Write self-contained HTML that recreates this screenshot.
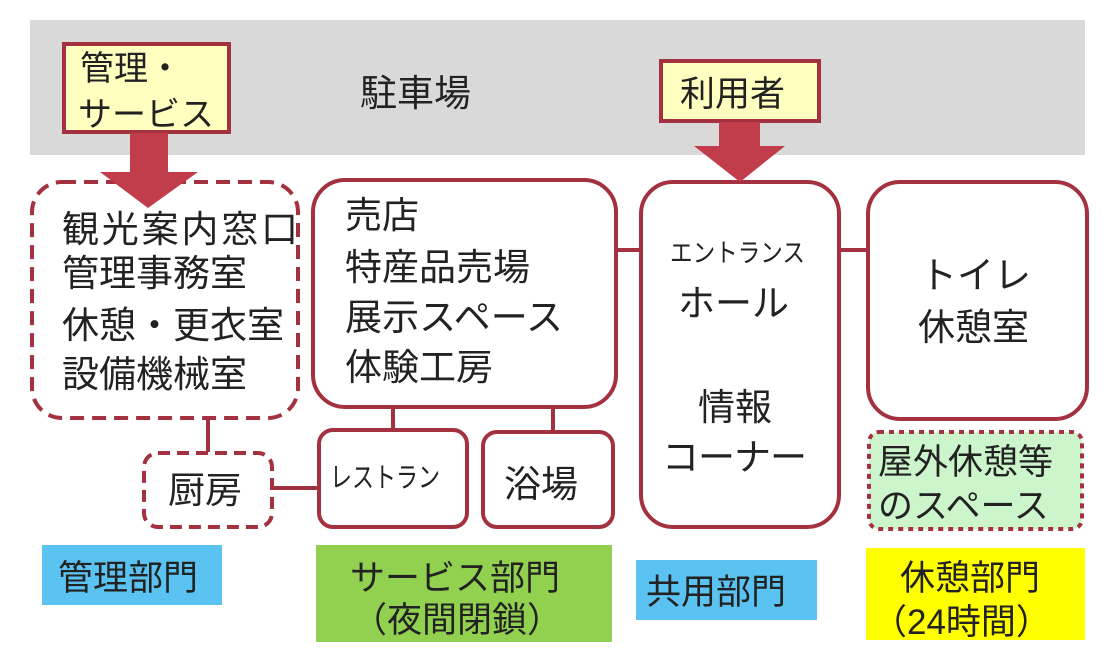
<!DOCTYPE html>
<html><head><meta charset="utf-8"><style>
html,body{margin:0;padding:0;background:#fff;}
svg text{font-family:"Liberation Sans","Noto Sans CJK JP",sans-serif;fill:#222;}
</style></head><body>
<svg width="1114" height="662" viewBox="0 0 1114 662" xmlns="http://www.w3.org/2000/svg">
<rect x="30" y="20" width="1055" height="135" fill="#d9d9d9"/>
<g stroke="#a3313f" stroke-width="4" fill="none">
<line x1="617" y1="250" x2="640" y2="250"/>
<line x1="840" y1="250" x2="867" y2="250"/>
<line x1="208" y1="420" x2="208" y2="452"/>
<line x1="273" y1="488" x2="318" y2="488"/>
<line x1="393" y1="408" x2="393" y2="430"/>
<line x1="553" y1="408" x2="553" y2="432"/>
<rect x="32" y="182" width="266" height="236" rx="30" stroke-dasharray="14,8" fill="#fff"/>
<rect x="313" y="180" width="303" height="227" rx="32" fill="#fff"/>
<rect x="641" y="182" width="198" height="345" rx="32" fill="#fff"/>
<rect x="868" y="182" width="219" height="237" rx="32" fill="#fff"/>
<rect x="869" y="432" width="213" height="97" rx="10" fill="#ccf5cc" stroke-dasharray="5,5"/>
<rect x="144" y="453" width="128" height="74" rx="14" stroke-dasharray="12,7" fill="#fff"/>
<rect x="319" y="430" width="148" height="97" rx="14" fill="#fff"/>
<rect x="483" y="432" width="130" height="95" rx="14" fill="#fff"/>
<rect x="64" y="44" width="165" height="88" fill="#ffffc0"/>
<rect x="661" y="61" width="158" height="60" fill="#ffffc0"/>
</g>
<g fill="#c23d4b">
<polygon points="130,133 168,133 168,172 198,172 148,208 100,172 130,172"/>
<polygon points="719,122 760,122 760,146 785,146 740,182 694,146 719,146"/>
</g>
<rect x="42" y="545" width="180" height="60" fill="#5bc3f2"/>
<rect x="316" y="545" width="296" height="97" fill="#92d050"/>
<rect x="636" y="560" width="181" height="60" fill="#5bc3f2"/>
<rect x="866" y="548" width="219" height="92" fill="#ffff00"/>
<g font-size="37">
<text x="80" y="80" font-size="34">管理・</text>
<text x="78" y="126" font-size="34">サービス</text>
<text x="360" y="106">駐車場</text>
<text x="680" y="106" font-size="35">利用者</text>
<text x="62" y="242" textLength="236">観光案内窓口</text>
<text x="62" y="286">管理事務室</text>
<text x="62" y="338" textLength="222">休憩・更衣室</text>
<text x="62" y="387">設備機械室</text>
<text x="345" y="228">売店</text>
<text x="345" y="280">特産品売場</text>
<text x="345" y="330" textLength="218">展示スペース</text>
<text x="345" y="380">体験工房</text>
<text x="670" y="262" font-size="26" textLength="135" lengthAdjust="spacingAndGlyphs">エントランス</text>
<text x="678" y="316">ホール</text>
<text x="698" y="420">情報</text>
<text x="662" y="470" textLength="145">コーナー</text>
<text x="920" y="288">トイレ</text>
<text x="918" y="340">休憩室</text>
<text x="878" y="474" font-size="35">屋外休憩等</text>
<text x="878" y="518" font-size="35">のスペース</text>
<text x="168" y="503">厨房</text>
<text x="330" y="487" font-size="28" textLength="110" lengthAdjust="spacingAndGlyphs">レストラン</text>
<text x="504" y="497">浴場</text>
<text x="58" y="590" font-size="35">管理部門</text>
<text x="350" y="590" font-size="35">サービス部門</text>
<text x="352" y="632" font-size="35">（夜間閉鎖）</text>
<text x="646" y="604" font-size="35">共用部門</text>
<text x="900" y="590" font-size="35">休憩部門</text>
<text x="872" y="634" font-size="35">（24時間）</text>
</g>
</svg>
</body></html>
